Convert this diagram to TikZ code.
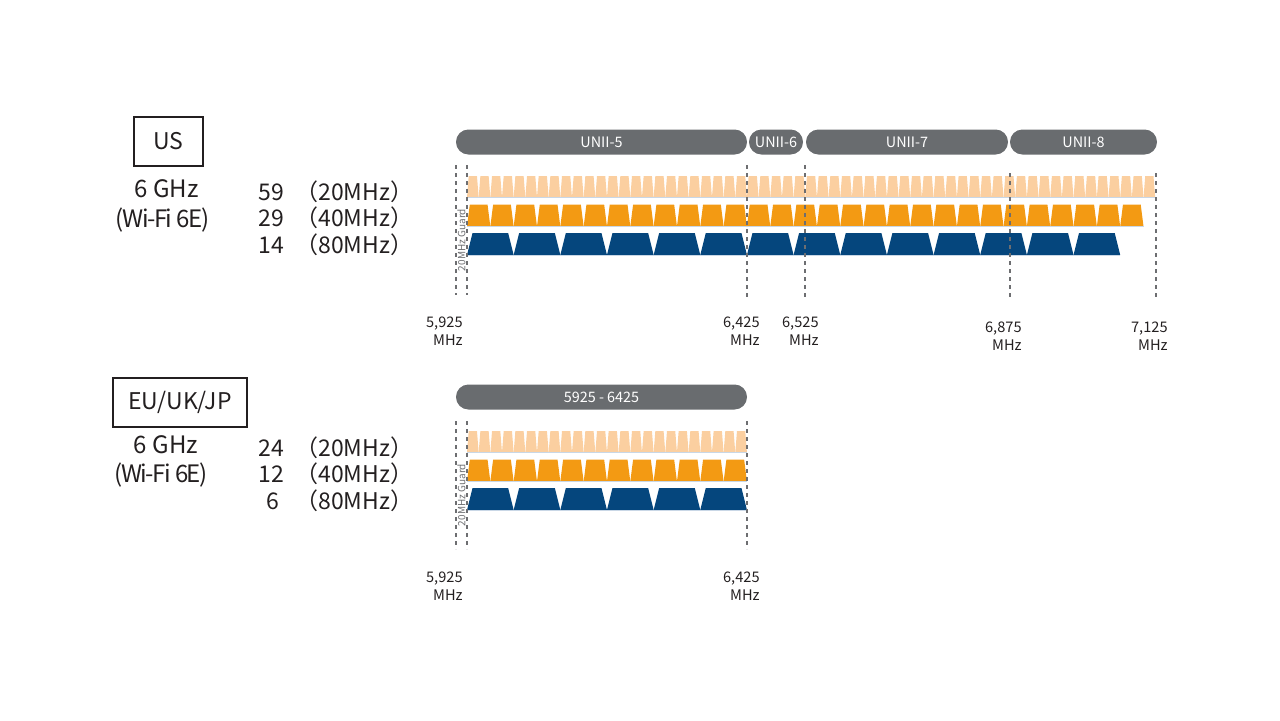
\documentclass[tikz,border=0pt]{standalone}
\usepackage{fontspec}
\setmainfont{Noto Sans CJK JP}

\definecolor{pillgray}{HTML}{696C6F}
\definecolor{peach}{HTML}{FBCFA0}
\definecolor{wifiorange}{HTML}{F39A13}
\definecolor{wifiblue}{HTML}{05467D}
\definecolor{guardgray}{HTML}{6D6E71}
\definecolor{inkblack}{HTML}{231F20}
\definecolor{baseblue}{HTML}{C9D7E6}

\tikzset{
  band/.style={fill=pillgray, rounded corners=6.2pt},
  bandlabel/.style={text=white, font=\fontsize{7.2}{8}\selectfont},
  guard/.style={draw=guardgray, line width=1.2pt, dash pattern=on 2pt off 2pt},
  freq/.style={align=right, anchor=north east, inner sep=0pt, text=inkblack,
    font=\fontsize{7.3}{9.2}\selectfont},
  region/.style={draw=inkblack, line width=1pt, text=inkblack,
    font=\fontsize{11.5}{12}\selectfont, minimum height=24.5pt},
  gen/.style={anchor=base, inner sep=0pt, text=inkblack, font=\fontsize{12}{13}\selectfont},
  wifi/.style={gen, font=\fontsize{12}{13}\selectfont\addfontfeature{LetterSpace=-6}},
  count/.style={anchor=base, inner sep=0pt, text=inkblack, font=\fontsize{11.5}{12}\selectfont},
  guardtext/.style={rotate=90, text=guardgray, font=\fontsize{5}{5}\selectfont, inner sep=0pt},
}

% one row of channels: colour, count, width, inset, top y, bottom y
\newcommand{\chanrow}[6]{%
  \foreach \i in {1,...,#2} {
    \pgfmathsetmacro{\xa}{467+(\i-1)*#3}
    \fill[#1] (\xa,#6) -- (\xa+#4,#5) -- (\xa+#3-#4,#5) -- (\xa+#3,#6) -- cycle;
  }
  \draw[baseblue, line width=0.5pt] (467,#6) -- ({467+#2*#3},#6);
}

\begin{document}
\begin{tikzpicture}[x=0.5pt,y=-0.5pt]
    \useasboundingbox (0,0) rectangle (1280,720);

    %% US
    \node[region, minimum width=34.5pt] (usbox) at (168.5,141.5) {US};
    \node[gen] (usghz) at (166.5,197) {6 GHz};
    \node[wifi] (uswifi) at (162.5,227) {(Wi-Fi 6E)};

    \node[count] (us20) at (271,200) {59};
    \node[count] (us40) at (271,226.5) {29};
    \node[count] (us80) at (271,253) {14};
    \node[count, anchor=base west] (us20w) at (295,200) {（20MHz）};
    \node[count, anchor=base west] (us40w) at (295,226.5) {（40MHz）};
    \node[count, anchor=base west] (us80w) at (295,253) {（80MHz）};

    \foreach \a/\b/\t in {456/747/UNII-5, 749/803/UNII-6, 806/1008/UNII-7, 1010/1157/UNII-8} {
      \fill[band] (\a,129.5) rectangle (\b,154.5);
      \node[bandlabel] at ({(\a+\b)/2},142) {\t};
    }

    \chanrow{peach}{59}{11.664}{1.7}{176}{197.5}
    \chanrow{wifiorange}{29}{23.328}{2.8}{204.5}{226.5}
    \chanrow{wifiblue}{14}{46.656}{5.5}{233}{255}

    \draw[guard] (456,165) -- (456,295);
    \draw[guard] (467,165) -- (467,295);
    \draw[guard] (747,165) -- (747,298);
    \draw[guard] (805,165) -- (805,298);
    \draw[guard] (1010,173) -- (1010,300);
    \draw[guard] (1156,173) -- (1156,300);

    \node[guardtext] (usguard) at (461.5,240) {20MHz Guard};

    \node[freq] (f5925) at (463,316) {5,925\\MHz};
    \node[freq] (f6425) at (760,316) {6,425\\MHz};
    \node[freq] (f6525) at (819,316) {6,525\\MHz};
    \node[freq] (f6875) at (1022,321) {6,875\\MHz};
    \node[freq] (f7125) at (1168,321) {7,125\\MHz};

    %% EU/UK/JP
    \node[region, minimum width=67pt] (eubox) at (180,402) {EU/UK/JP};
    \node[gen] (eughz) at (166,453) {6 GHz};
    \node[wifi] (euwifi) at (161,482) {(Wi-Fi 6E)};

    \node[count] (eu20) at (271,456) {24};
    \node[count] (eu40) at (271,482.5) {12};
    \node[count] (eu80) at (273,509) {6};
    \node[count, anchor=base west] (eu20w) at (295,456) {（20MHz）};
    \node[count, anchor=base west] (eu40w) at (295,482.5) {（40MHz）};
    \node[count, anchor=base west] (eu80w) at (295,509) {（80MHz）};

    \fill[band] (456,384.5) rectangle (747,409.5);
    \node[bandlabel] (euband) at (601.5,397) {5925 - 6425};

    \begin{scope}[yshift=-127.5pt]
    \chanrow{peach}{24}{11.664}{1.7}{176}{197.5}
    \chanrow{wifiorange}{12}{23.328}{2.8}{204.5}{226.5}
    \chanrow{wifiblue}{6}{46.656}{5.5}{233}{255}
    \end{scope}

    \draw[guard] (456,421) -- (456,549);
    \draw[guard] (467,421) -- (467,549);
    \draw[guard] (747,421) -- (747,549);

    \node[guardtext] (euguard) at (461.5,495) {20MHz Guard};

    \node[freq] (e5925) at (463,571) {5,925\\MHz};
    \node[freq] (e6425) at (760,571) {6,425\\MHz};
\end{tikzpicture}
\end{document}
